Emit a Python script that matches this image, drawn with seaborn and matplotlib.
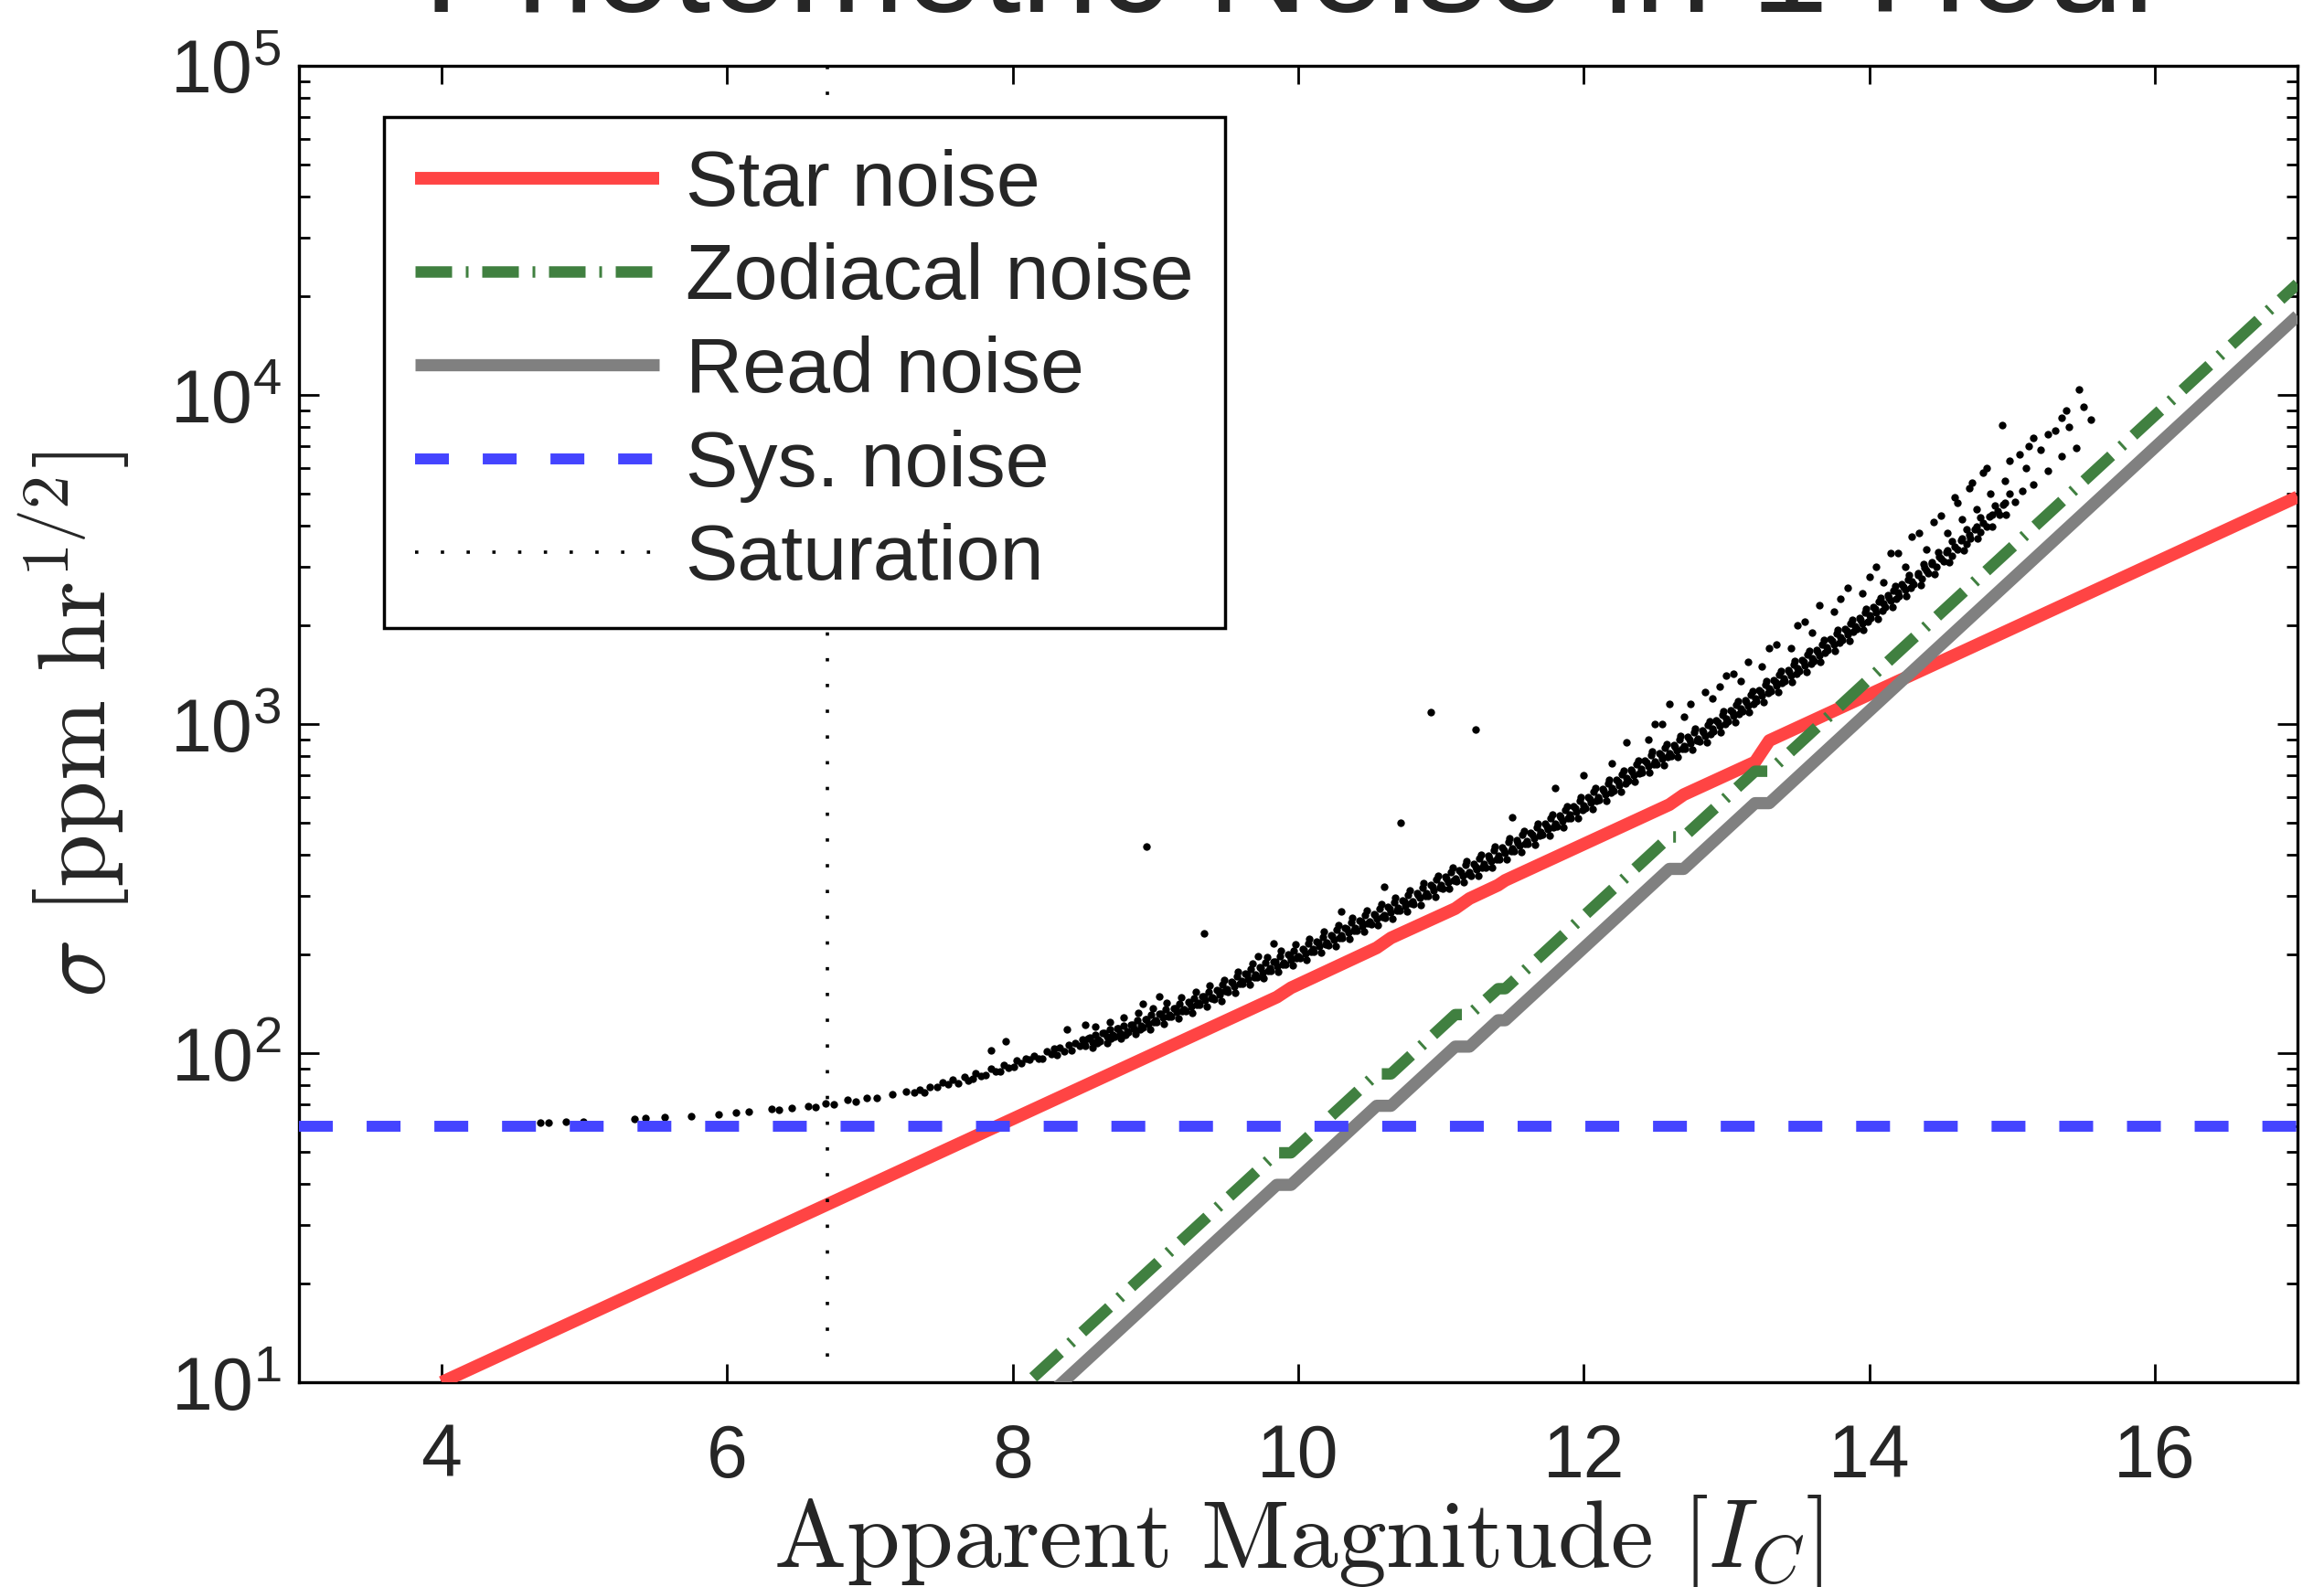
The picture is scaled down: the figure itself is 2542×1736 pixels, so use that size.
import math
import matplotlib
matplotlib.use("Agg")
import matplotlib.pyplot as plt
import seaborn as sns
from matplotlib.ticker import LogLocator, FixedLocator, NullFormatter, FuncFormatter

# ---------------- data ----------------
star_mag = [4.0, 9.85, 9.95, 10.55, 10.65, 11.1, 11.2, 11.4, 11.45, 12.6, 12.7, 13.2, 13.3, 17.0]
star_sigma = [10, 148, 158, 209, 224, 275, 295, 324, 335, 569, 610, 767, 891, 4900]

zodi_mag = [7.8, 9.85, 9.95, 10.55, 10.65, 11.1, 11.2, 11.4, 11.45, 12.6, 12.7, 13.2, 13.3, 17.0]
zodi_sigma = [7.54, 49.8, 49.8, 86.5, 86.5, 131, 131, 157, 157, 454, 454, 719, 719, 21750]

read_mag = [8.0, 9.85, 9.95, 10.55, 10.65, 11.1, 11.2, 11.4, 11.45, 12.6, 12.7, 13.2, 13.3, 17.0]
read_sigma = [7.24, 39.8, 39.8, 69.2, 69.2, 104.7, 104.7, 125.9, 125.9, 363, 363, 575, 575, 17400]

sys_mag = [3.0, 17.0]
sys_sigma = [60, 60]

sat_mag = [6.7, 6.7]
sat_sigma = [12, 100000]

x_ticks = [4, 6, 8, 10, 12, 14, 16]

# stars: bright end and main band
scatter_mag = [
    4.69, 4.75, 4.87, 4.99, 5.35, 5.43, 5.56, 5.75, 5.94, 6.06, 6.15, 6.31, 6.36, 6.45, 6.57, 6.62, 6.69, 6.75, 6.84, 6.90, 6.98, 7.05, 7.16, 7.25,
    7.31, 7.35, 7.38, 7.42, 7.47, 7.51, 7.55, 7.58, 7.62, 7.66, 7.69, 7.72, 7.74, 7.78,
    7.81, 7.85, 7.88, 7.91, 7.94, 7.97, 8.01, 8.03, 8.06, 8.09, 8.12, 8.15, 8.18,
    8.21, 8.24, 8.27, 8.29, 8.31, 8.33, 8.36, 8.39, 8.41, 8.44, 8.47, 8.49,
    8.51, 8.53, 8.56, 8.58, 8.59, 8.61, 8.63, 8.66, 8.68, 8.69, 8.71, 8.73, 8.75, 8.78, 8.79,
    8.81, 8.83, 8.85, 8.87, 8.89, 8.91, 8.93, 8.95, 8.97, 8.99,
    9.01, 9.03, 9.05, 9.07, 9.09, 9.11, 9.13, 9.15, 9.17, 9.19,
    9.21, 9.23, 9.25, 9.27, 9.29, 9.31, 9.33, 9.35, 9.37, 9.39,
    9.41, 9.43, 9.45, 9.47, 9.49, 9.51, 9.53, 9.55, 9.57, 9.59,
    9.61, 9.63, 9.65, 9.67, 9.69, 9.71, 9.73, 9.75, 9.77, 9.79,
    9.81, 9.83, 9.85, 9.87, 9.89, 9.91, 9.93, 9.95, 9.97, 9.99,
    10.01, 10.03, 10.05, 10.07, 10.09, 10.11, 10.13, 10.15, 10.17, 10.19,
    10.21, 10.23, 10.25, 10.27, 10.29, 10.31, 10.33, 10.35, 10.37, 10.39,
    10.41, 10.43, 10.45, 10.47, 10.49, 10.51, 10.53, 10.55, 10.57, 10.59,
    10.61, 10.63, 10.65, 10.67, 10.69, 10.71, 10.73, 10.75, 10.77, 10.79,
    10.81, 10.83, 10.85, 10.87, 10.89, 10.91, 10.93, 10.95, 10.97, 10.99,
    11.01, 11.03, 11.05, 11.07, 11.09, 11.11, 11.13, 11.15, 11.17, 11.19,
    11.21, 11.23, 11.25, 11.27, 11.29, 11.31, 11.33, 11.35, 11.37, 11.39,
    11.41, 11.43, 11.45, 11.47, 11.49, 11.51, 11.53, 11.55, 11.57, 11.59,
    11.61, 11.63, 11.65, 11.67, 11.69, 11.71, 11.73, 11.75, 11.77, 11.79,
    11.81, 11.83, 11.85, 11.87, 11.89, 11.91, 11.93, 11.95, 11.97, 11.99,
    12.01, 12.03, 12.05, 12.07, 12.09, 12.11, 12.13, 12.15, 12.17, 12.19,
    12.21, 12.23, 12.25, 12.27, 12.29, 12.31, 12.33, 12.35, 12.37, 12.39,
    12.41, 12.43, 12.45, 12.47, 12.49, 12.51, 12.53, 12.55, 12.57, 12.59,
    12.61, 12.63, 12.65, 12.67, 12.69, 12.71, 12.73, 12.75, 12.77, 12.79,
    12.81, 12.83, 12.85, 12.87, 12.89, 12.91, 12.93, 12.95, 12.97, 12.99,
    13.01, 13.03, 13.05, 13.07, 13.09, 13.11, 13.13, 13.15, 13.17, 13.19,
    13.21, 13.23, 13.25, 13.27, 13.29, 13.31, 13.33, 13.35, 13.37, 13.39,
    13.41, 13.43, 13.45, 13.47, 13.49, 13.51, 13.53, 13.55, 13.57, 13.59,
    13.61, 13.63, 13.65, 13.67, 13.69, 13.71, 13.73, 13.75, 13.77, 13.79,
    13.81, 13.83, 13.85, 13.87, 13.89, 13.91, 13.93, 13.95, 13.97, 13.99,
    14.01, 14.03, 14.05, 14.07, 14.09, 14.11, 14.13, 14.15, 14.17, 14.19,
    14.21, 14.23, 14.25, 14.27, 14.29, 14.31, 14.34, 14.37, 14.39,
    14.41, 14.44, 14.47, 14.49, 14.52, 14.55, 14.58, 14.62, 14.65, 14.68,
    14.71, 14.75, 14.78, 14.82, 14.86, 14.91, 14.95, 15.02, 15.07, 15.15, 15.25, 15.35, 15.45,
]
scatter_sigma = [
    61.4, 61.6, 61.9, 61.8, 63.0, 63.4, 64.0, 64.3, 65.2, 66.0, 66.5, 67.7, 67.5, 68.0, 69.0, 68.6, 70.2, 70.0, 72.0, 71.5, 73.3, 73.0, 75.2, 76.4,
    75.8, 77.5, 76.0, 78.9, 79.2, 81.5, 80.4, 83.0, 81.0, 84.5, 82.8, 83.5, 86.8, 85.0,
    85.6, 90.0, 88.0, 88.2, 92.0, 90.5, 91.0, 94.8, 93.0, 96.5, 95.5, 98.0, 96.0,
    96.5, 101, 99.5, 103, 99.0, 104, 101.5, 106, 102, 107, 105, 110,
    105, 111, 108, 114, 107, 109, 115, 112, 118, 111, 112, 119, 115, 121, 114,
    116, 122, 119, 126, 118, 120, 127, 123, 131, 124,
    124, 132, 128, 136, 129, 129, 137, 133, 141, 134,
    134, 143, 139, 147, 140, 140, 149, 145, 154, 147,
    146, 156, 151, 162, 155, 154, 165, 160, 171, 163,
    163, 174, 168, 180, 170, 170, 182, 176, 188, 178,
    178, 190, 184, 197, 186, 186, 199, 192, 205, 194,
    194, 207, 201, 215, 204, 203, 218, 211, 226, 214,
    213, 229, 221, 237, 224, 224, 240, 232, 249, 236,
    235, 253, 244, 262, 248, 246, 265, 256, 275, 260,
    258, 278, 268, 288, 272, 271, 292, 281, 303, 286,
    284, 307, 296, 318, 300, 301, 325, 313, 337, 318,
    317, 343, 330, 356, 336, 332, 359, 346, 373, 351,
    347, 375, 361, 390, 367, 367, 398, 383, 413, 389,
    389, 421, 405, 437, 412, 410, 443, 426, 460, 433,
    432, 467, 450, 485, 457, 460, 497, 478, 516, 486,
    488, 528, 508, 548, 516, 519, 562, 541, 583, 549,
    554, 599, 576, 622, 585, 588, 636, 612, 660, 621,
    627, 678, 653, 704, 662, 671, 726, 699, 754, 709,
    715, 774, 745, 803, 756, 755, 816, 785, 847, 797,
    799, 864, 831, 897, 844, 843, 912, 877, 946, 890,
    884, 956, 920, 992, 934, 949, 1026, 987, 1065, 1002,
    1017, 1100, 1059, 1142, 1074, 1093, 1182, 1137, 1227, 1154,
    1174, 1270, 1222, 1318, 1240, 1259, 1362, 1311, 1414, 1330,
    1348, 1458, 1403, 1513, 1423, 1448, 1567, 1508, 1626, 1530,
    1557, 1684, 1621, 1748, 1645, 1676, 1813, 1744, 1881, 1770,
    1804, 1951, 1878, 2025, 1905, 1945, 2104, 2025, 2184, 2054,
    2100, 2272, 2186, 2357, 2218, 2274, 2459, 2366, 2552, 2401,
    2455, 2655, 2555, 2756, 2593, 2656, 2873, 2764, 2981,
    2878, 3113, 2996, 3231, 3121, 3376, 3249, 3385, 3661, 3523,
    3675, 3975, 3825, 3994, 4321, 4341, 4696, 4724, 5109, 5350, 5900, 6500, 6900,
]

# second pass over the main band (denser core)
band_mag = [
    8.50, 8.54, 8.56, 8.58, 8.60, 8.64, 8.66, 8.68, 8.70, 8.74, 8.76, 8.78, 8.80, 8.84, 8.86, 8.88, 8.90, 8.94, 8.96, 8.98,
    9.00, 9.04, 9.06, 9.08, 9.10, 9.14, 9.16, 9.18, 9.20, 9.24, 9.26, 9.28, 9.30, 9.34, 9.36, 9.38, 9.40, 9.44, 9.46, 9.48,
    9.50, 9.54, 9.56, 9.58, 9.60, 9.64, 9.66, 9.68, 9.70, 9.74, 9.76, 9.78, 9.80, 9.84, 9.86, 9.88, 9.90, 9.94, 9.96, 9.98,
    10.00, 10.04, 10.06, 10.08, 10.10, 10.14, 10.16, 10.18, 10.20, 10.24, 10.26, 10.28, 10.30, 10.34, 10.36, 10.38, 10.40, 10.44, 10.46, 10.48,
    10.50, 10.54, 10.56, 10.58, 10.60, 10.64, 10.66, 10.68, 10.70, 10.74, 10.76, 10.78, 10.80, 10.84, 10.86, 10.88, 10.90, 10.94, 10.96, 10.98,
    11.00, 11.04, 11.06, 11.08, 11.10, 11.14, 11.16, 11.18, 11.20, 11.24, 11.26, 11.28, 11.30, 11.34, 11.36, 11.38, 11.40, 11.44, 11.46, 11.48,
    11.50, 11.54, 11.56, 11.58, 11.60, 11.64, 11.66, 11.68, 11.70, 11.74, 11.76, 11.78, 11.80, 11.84, 11.86, 11.88, 11.90, 11.94, 11.96, 11.98,
    12.00, 12.04, 12.06, 12.08, 12.10, 12.14, 12.16, 12.18, 12.20, 12.24, 12.26, 12.28, 12.30, 12.34, 12.36, 12.38, 12.40, 12.44, 12.46, 12.48,
    12.50, 12.54, 12.56, 12.58, 12.60, 12.64, 12.66, 12.68, 12.70, 12.74, 12.76, 12.78, 12.80, 12.84, 12.86, 12.88, 12.90, 12.94, 12.96, 12.98,
    13.00, 13.04, 13.06, 13.08, 13.10, 13.14, 13.16, 13.18, 13.20, 13.24, 13.26, 13.28, 13.30, 13.34, 13.36, 13.38, 13.40, 13.44, 13.46, 13.48,
    13.50, 13.54, 13.56, 13.58, 13.60, 13.64, 13.66, 13.68, 13.70, 13.74, 13.76, 13.78, 13.80, 13.84, 13.86, 13.88, 13.90, 13.94, 13.96, 13.98,
    14.00, 14.04, 14.06, 14.08, 14.10, 14.14, 14.16, 14.18, 14.20, 14.24, 14.26, 14.28, 14.30, 14.34, 14.36, 14.38, 14.40, 14.44, 14.46, 14.48,
    14.50, 14.54, 14.56, 14.58, 14.60, 14.64, 14.66, 14.68, 14.70, 14.74, 14.76, 14.78, 14.80, 14.84, 14.86, 14.88, 14.90, 14.94, 14.96, 14.98,
]
band_sigma = [
    106.5, 111.3, 103.8, 120.3, 110, 115, 107.3, 124.3, 113.5, 118.6, 110.7, 128.3, 117, 122.3, 114.1, 132.2, 121, 126.4, 118, 136.7,
    126, 131.7, 122.9, 142.4, 131, 136.9, 127.7, 148, 136, 142.1, 132.6, 153.7, 142, 148.4, 138.5, 160.5, 148, 154.7, 144.3, 167.2,
    157, 164, 153, 177, 166, 173.5, 161.9, 187.6, 173, 180.8, 168.7, 195.5, 181, 189.1, 176.5, 204.5, 189, 197.5, 184.3, 213.6,
    197, 205.9, 192.1, 222.6, 207, 216.3, 201.8, 233.9, 217, 226.8, 211.6, 245.2, 228, 238.3, 222.3, 257.6, 240, 250.8, 234, 271.2,
    251, 262.3, 244.7, 283.6, 263, 274.8, 256.4, 297.2, 276, 288.4, 269.1, 311.9, 290, 303, 282.8, 327.7, 307, 320.8, 299.3, 346.9,
    324, 338.6, 315.9, 366.1, 339, 354.3, 330.5, 383.1, 354, 369.9, 345.2, 400, 375, 391.9, 365.6, 423.8, 397, 414.9, 387.1, 448.6,
    418, 436.8, 407.6, 472.3, 441, 460.8, 430, 498.3, 469, 490.1, 457.3, 530, 498, 520.4, 485.6, 562.7, 530, 553.9, 516.8, 598.9,
    565, 590.4, 550.9, 638.5, 600, 627, 585, 678, 640, 668.8, 624, 723.2, 685, 715.8, 667.9, 774, 730, 762.9, 711.8, 824.9,
    770, 804.7, 750.8, 870.1, 815, 851.7, 794.6, 921, 860, 898.7, 838.5, 971.8, 902, 942.6, 879.5, 1019, 968, 1012, 943.8, 1094,
    1038, 1085, 1012, 1173, 1115, 1165, 1087, 1260, 1198, 1252, 1168, 1354, 1285, 1343, 1253, 1452, 1375, 1437, 1341, 1554,
    1478, 1545, 1441, 1670, 1589, 1661, 1549, 1796, 1710, 1787, 1667, 1932, 1841, 1924, 1795, 2080, 1985, 2074, 1935, 2243,
    2143, 2239, 2089, 2422, 2320, 2424, 2262, 2622, 2505, 2618, 2442, 2831, 2710, 2832, 2642, 3062, 2937, 3069, 2864, 3319,
    3185, 3328, 3105, 3599, 3454, 3609, 3368, 3903, 3750, 3919, 3656, 4238, 4076, 4259, 3974, 4606, 4430, 4629, 4319, 5006,
]

# stars scattered above the main band
outlier_mag = [
    7.85, 7.95, 8.38, 8.51, 8.91, 9.03, 8.94, 9.34, 9.72, 9.83,
    10.3, 10.6, 10.72, 10.93, 11.24, 11.5, 11.8, 12.0, 12.2, 12.3, 12.45, 12.5, 12.6, 12.7,
    12.85, 12.9, 13.0, 13.1, 13.25, 13.3, 13.45, 13.5, 13.6, 13.75, 13.8, 13.95, 14.0, 14.1,
    14.2, 14.25, 14.35, 14.4, 14.5, 14.55, 14.6, 14.65, 14.7, 14.75, 14.8, 14.85, 14.93, 14.95,
    15.05, 15.1, 15.15, 15.2, 15.3, 15.35, 15.4, 15.47, 15.5,
    12.55, 12.75, 12.95, 13.05, 13.15, 13.35, 13.55, 13.65, 13.85, 14.05, 14.15, 14.3, 14.45,
    14.62, 14.72, 14.82, 14.98, 15.12, 15.25, 15.38, 15.55,
]
outlier_sigma = [
    102, 109, 118, 122, 141, 149, 425, 231, 197, 216,
    270, 320, 500, 1090, 960, 520, 640, 700, 760, 880, 900, 1000, 1150, 1050,
    1250, 1200, 1400, 1350, 1500, 1700, 1700, 2000, 1900, 2200, 2400, 2500, 2800, 2700,
    3300, 3000, 3800, 3400, 4300, 3800, 4900, 4200, 5200, 4500, 5800, 5000, 8100, 5500,
    6600, 6000, 7400, 6800, 7800, 8500, 8000, 10400, 9200,
    1000, 1150, 1300, 1420, 1550, 1750, 2050, 2300, 2600, 3000, 3300, 3700, 4100,
    4700, 5400, 6000, 6300, 7000, 7600, 9000, 8400,
]

# ---------------- styling ----------------
sns.set_theme(style="ticks")
plt.rcParams["font.family"] = ["Liberation Sans", "DejaVu Sans"]
plt.rcParams["mathtext.fontset"] = "custom"
plt.rcParams["mathtext.rm"] = "Liberation Sans"
plt.rcParams["mathtext.it"] = "Liberation Sans:italic"

RED = "#ff4444"
GREEN = "#408040"
GRAY = "#808080"
BLUE = "#4444ff"

fig = plt.figure(figsize=(12.71, 8.68), dpi=200)
ax = fig.add_axes([0.1286, 0.129, 0.86, 0.8295])
ax.set_yscale("log")

all_mag = scatter_mag + band_mag + outlier_mag
all_sigma = scatter_sigma + band_sigma + outlier_sigma
sns.scatterplot(x=all_mag, y=all_sigma, color="black", s=9, linewidth=0, ax=ax, zorder=2)

sns.lineplot(x=star_mag, y=star_sigma, color=RED, lw=5, label="Star noise",
             estimator=None, sort=False, ax=ax, zorder=3)
sns.lineplot(x=zodi_mag, y=zodi_sigma, color=GREEN, lw=4.5, label="Zodiacal noise",
             estimator=None, sort=False, ax=ax, zorder=3,
             linestyle=(0, (3.2, 1.2, 0.24, 1.2)))
sns.lineplot(x=read_mag, y=read_sigma, color=GRAY, lw=4.8, label="Read noise",
             estimator=None, sort=False, ax=ax, zorder=3)
sns.lineplot(x=sys_mag, y=sys_sigma, color=BLUE, lw=4.3, label="Sys. noise",
             estimator=None, sort=False, ax=ax, zorder=3,
             linestyle=(0, (3.1, 3.1)))
sns.lineplot(x=sat_mag, y=sat_sigma, color="black", lw=1.3, label="Saturation",
             estimator=None, sort=False, orient="y", ax=ax, zorder=3,
             linestyle=(0, (1, 6.8)))

for ln in ax.lines:
    ln.set_dash_capstyle("butt")
    ln.set_solid_capstyle("butt")

ax.set_xlim(3, 17)
ax.set_ylim(10, 1e5)
ax.xaxis.set_major_locator(FixedLocator(x_ticks))
ax.yaxis.set_major_locator(LogLocator(base=10, numticks=10))
ax.yaxis.set_minor_locator(LogLocator(base=10, subs=range(2, 10), numticks=20))
ax.yaxis.set_major_formatter(FuncFormatter(
    lambda v, p: r"$\mathrm{10}^{\mathrm{%d}}$" % int(round(math.log10(v)))))
ax.yaxis.set_minor_formatter(NullFormatter())

for sp in ax.spines.values():
    sp.set_linewidth(1.2)
    sp.set_color("black")
    sp.set_visible(True)

ax.tick_params(axis="both", which="both", direction="in", top=True, right=True,
               color="black", width=1.0)
ax.tick_params(axis="x", which="major", length=7.2, pad=16, labelsize=29)
ax.tick_params(axis="y", which="major", length=8, pad=7, labelsize=29)
ax.tick_params(axis="y", which="minor", length=4.2)
ax.tick_params(axis="x", which="minor", length=0)

ax.set_xlabel(r"$\mathrm{Apparent\ Magnitude\ }[I_C]$", fontsize=38,
              math_fontfamily="cm", labelpad=0)
ax.set_ylabel(r"$\sigma\ [\mathrm{ppm\ hr}^{\mathrm{1/2}}]$", fontsize=38,
              math_fontfamily="cm", labelpad=15)

fig.text(0.558, 1 - 13 / 1736, "Photometric Noise in 1 Hour", fontsize=55,
         ha="center", va="baseline")

handles, labels = ax.get_legend_handles_labels()
leg = ax.legend(handles, labels, loc="upper left", bbox_to_anchor=(0.0425, 0.961),
                borderaxespad=0, fontsize=31, frameon=True, fancybox=False,
                framealpha=1, edgecolor="black", handlelength=3.1,
                handletextpad=0.33, borderpad=0.4, labelspacing=0.26)
leg.get_frame().set_linewidth(1.25)

fig.savefig("out.png", dpi=200)
